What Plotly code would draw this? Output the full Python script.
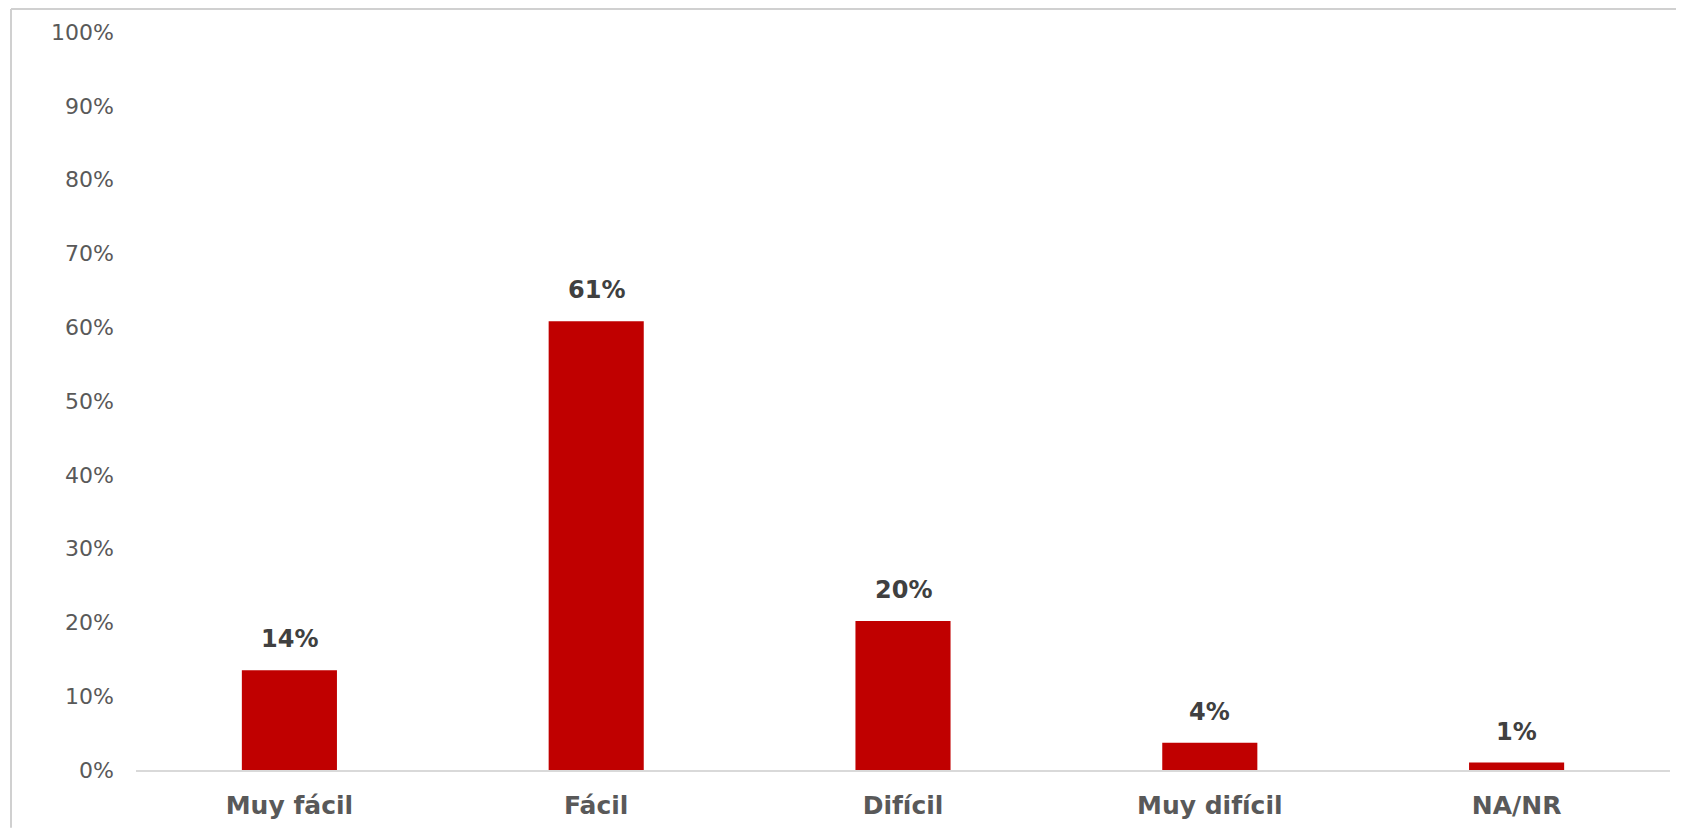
import plotly.graph_objects as go

categories = ["Muy fácil", "Fácil", "Difícil", "Muy difícil", "NA/NR"]
values = [13.5, 60.8, 20.2, 3.7, 1.0]
labels = ["14%", "61%", "20%", "4%", "1%"]
tick_vals = [0, 10, 20, 30, 40, 50, 60, 70, 80, 90, 100]
tick_text = ["0%", "10%", "20%", "30%", "40%", "50%", "60%", "70%", "80%", "90%", "100%"]

# the page body adds an 8px offset; size the figure to fit the window
W, H = 1676, 824
L, R, T, B = 128, 14, 24, 58

fig = go.Figure()
fig.add_trace(go.Bar(
    x=categories, y=values,
    marker=dict(color="#C00000", line=dict(width=0)),
    hoverinfo="skip",
))

for c, v, t in zip(categories, values, labels):
    fig.add_annotation(
        x=c, y=v, text=f"<b>{t}</b>", showarrow=False,
        yanchor="bottom", yshift=15,
        font=dict(family="DejaVu Sans", size=24, color="#404040"),
    )

fig.update_layout(
    width=W, height=H,
    margin=dict(l=L, r=R, t=T, b=B, pad=0),
    paper_bgcolor="white", plot_bgcolor="white",
    bargap=0.69,
    showlegend=False,
    xaxis=dict(
        showgrid=False, showline=True, linecolor="#d9d9d9", linewidth=2,
        ticks="", ticklabelstandoff=12,
        tickfont=dict(family="DejaVu Sans", size=25, color="#595959"),
        tickprefix="<b>", ticksuffix="</b>",
    ),
    yaxis=dict(
        range=[0, 100], tickvals=tick_vals, ticktext=tick_text,
        showgrid=False, zeroline=False, showline=False, ticks="",
        ticklabelstandoff=21,
        tickfont=dict(family="DejaVu Sans", size=22, color="#595959"),
    ),
)

# outer chart-area border (left and top edges visible)
pw = W - L - R
ph = H - T - B
x0 = (3 - L) / pw
y_top = 1 + (T - 1) / ph
y_bot = -B / ph
fig.add_shape(type="line", xref="paper", yref="paper", x0=x0, x1=x0, y0=y_bot, y1=y_top,
              line=dict(color="#d0d0d0", width=2))
fig.add_shape(type="line", xref="paper", yref="paper", x0=x0, x1=1 + R / pw, y0=y_top, y1=y_top,
              line=dict(color="#d0d0d0", width=2))

fig.write_html("out.html")
